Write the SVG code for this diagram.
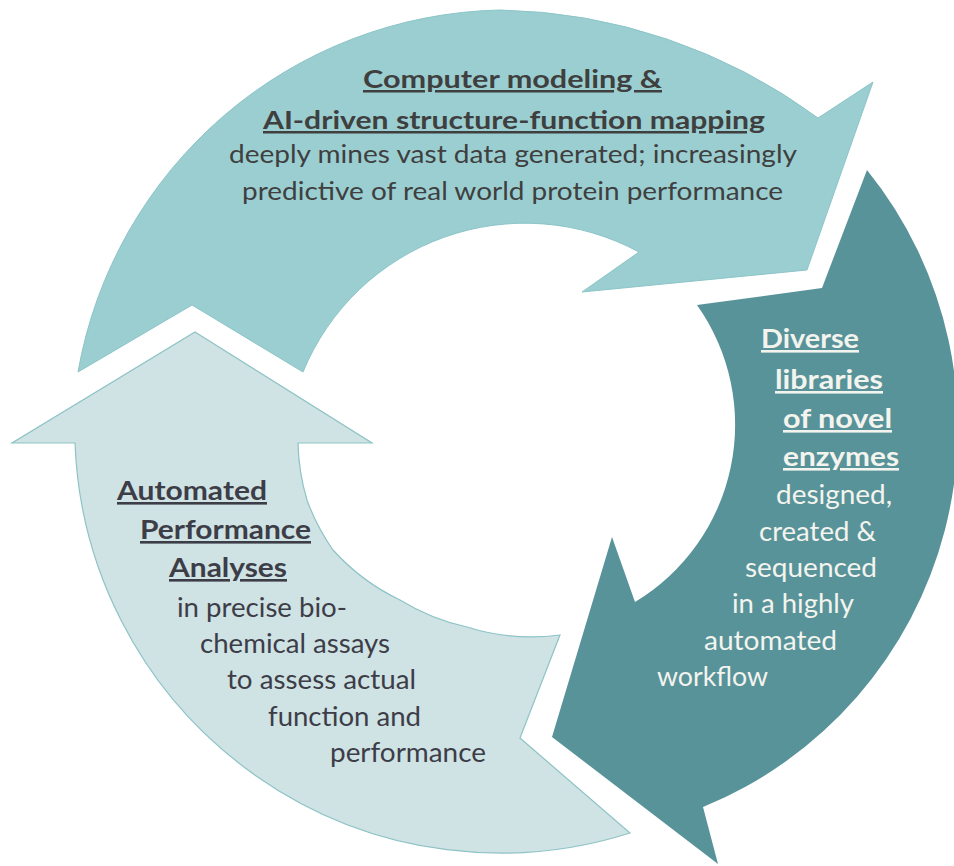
<svg xmlns="http://www.w3.org/2000/svg" width="954" height="866" viewBox="0 0 954 866">
<style>
  text { font-family: Lato, "Open Sans", "Liberation Sans", sans-serif; }
  .top { fill: #9ACED1; stroke: #8CC5C8; stroke-width: 1; }
  .dark { fill: #58939A; }
  .light { fill: #CFE2E4; stroke: #8EC3C6; stroke-width: 1.2; }
  .t1 { font-size: 25px; fill: #3F3F3F; }
  .t2 { font-size: 26px; fill: #F4F4EE; }
  .t3 { font-size: 26px; fill: #3D3D48; }
  .b { font-weight: bold; text-decoration: underline; }
</style>
<rect width="954" height="866" fill="#FFFFFF"/>

<g id="node-modeling">
  <path class="top" d="M78,372 A438,438 0 0 1 500,10 A552,552 0 0 1 818,118 L873,82 L807,270 L582,292 L639,252 A240,240 0 0 0 303,372 L192,305 Z"/>
  <text class="t1 b" x="363" y="88" textLength="299" lengthAdjust="spacingAndGlyphs">Computer modeling &amp;</text>
  <text class="t1 b" x="263" y="129" textLength="502" lengthAdjust="spacingAndGlyphs">AI-driven structure-function mapping</text>
  <text class="t1" x="229" y="163" textLength="568" lengthAdjust="spacingAndGlyphs">deeply mines vast data generated; increasingly</text>
  <text class="t1" x="242" y="200" textLength="541" lengthAdjust="spacingAndGlyphs">predictive of real world protein performance</text>
</g>

<g id="node-libraries">
  <path class="dark" d="M867,170 A410,410 0 0 1 703,807 L718,864 L552,737 L612,537 L635,602 A207,207 0 0 0 697,305 L822,288 Z"/>
  <text class="t2 b" x="761" y="348" textLength="98" lengthAdjust="spacingAndGlyphs">Diverse</text>
  <text class="t2 b" x="775" y="389" textLength="108" lengthAdjust="spacingAndGlyphs">libraries</text>
  <text class="t2 b" x="783" y="428" textLength="109" lengthAdjust="spacingAndGlyphs">of novel</text>
  <text class="t2 b" x="783" y="466" textLength="116" lengthAdjust="spacingAndGlyphs">enzymes</text>
  <text class="t2" x="776" y="504" textLength="116" lengthAdjust="spacingAndGlyphs">designed,</text>
  <text class="t2" x="759" y="541" textLength="117" lengthAdjust="spacingAndGlyphs">created &amp;</text>
  <text class="t2" x="745" y="577" textLength="132" lengthAdjust="spacingAndGlyphs">sequenced</text>
  <text class="t2" x="732" y="613" textLength="122" lengthAdjust="spacingAndGlyphs">in a highly</text>
  <text class="t2" x="704" y="650" textLength="133" lengthAdjust="spacingAndGlyphs">automated</text>
  <text class="t2" x="657" y="686" textLength="111" lengthAdjust="spacingAndGlyphs">workflow</text>
</g>

<g id="node-analyses">
  <path class="light" d="M195,332 L372,443 L298,443 A215,215 0 0 0 307,500 A215,215 0 0 0 333,550 A215,215 0 0 0 400,600 A215,215 0 0 0 467,627 A215,215 0 0 0 560,635 L520,738 L630,833 A426,426 0 0 1 75,443 L12,443 Z"/>
  <text class="t3 b" x="117" y="500" textLength="150" lengthAdjust="spacingAndGlyphs">Automated</text>
  <text class="t3 b" x="140" y="539" textLength="171" lengthAdjust="spacingAndGlyphs">Performance</text>
  <text class="t3 b" x="169" y="577" textLength="118" lengthAdjust="spacingAndGlyphs">Analyses</text>
  <text class="t3" x="177" y="617" textLength="170" lengthAdjust="spacingAndGlyphs">in precise bio-</text>
  <text class="t3" x="200" y="653" textLength="190" lengthAdjust="spacingAndGlyphs">chemical assays</text>
  <text class="t3" x="227" y="689" textLength="189" lengthAdjust="spacingAndGlyphs">to assess actual</text>
  <text class="t3" x="268" y="726" textLength="153" lengthAdjust="spacingAndGlyphs">function and</text>
  <text class="t3" x="330" y="762" textLength="156" lengthAdjust="spacingAndGlyphs">performance</text>
</g>

<g id="connectors"></g>
</svg>
